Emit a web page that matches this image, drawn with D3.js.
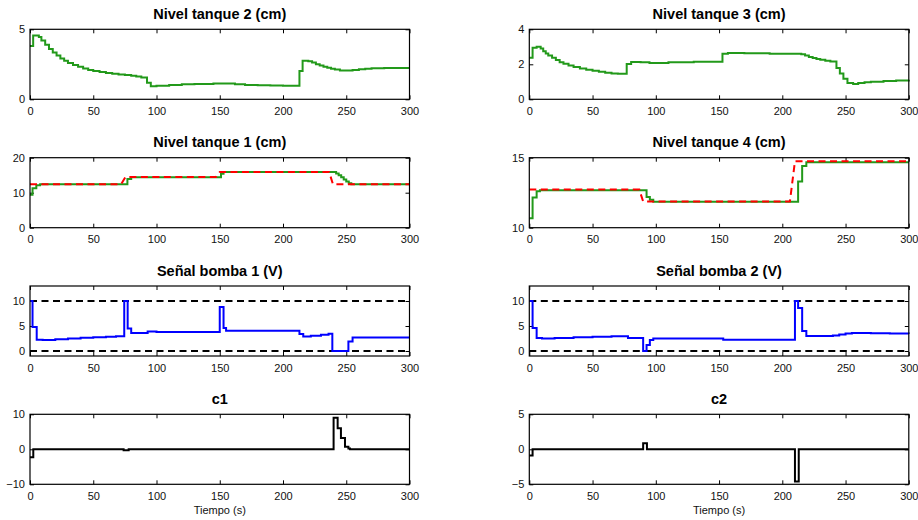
<!DOCTYPE html>
<html>
<head>
<meta charset="utf-8">
<script src="https://cdn.jsdelivr.net/npm/d3@7"></script>
<style>
  body { margin: 0; background: #fff; }
  text { font-family: "Liberation Sans", Arial, Helvetica, sans-serif; }
  .title { font-weight: bold; font-size: 14.5px; }
  .tick text { font-size: 11px; fill: #111; }
</style>
</head>
<body>
<svg id="chart"></svg>
<script>
// time axis (s)
const xTicks = [0, 50, 100, 150, 200, 250, 300];

// tank levels (cm), [t, value]
const tank2 = [[0,3.8],[2.5,4.55],[7,4.45],[9,4.2],[12,3.9],[15,3.6],[18,3.35],[21,3.12],[24,2.92],[27,2.75],[30,2.6],[34,2.45],[38,2.32],[42,2.2],[46,2.1],[50,2.02],[55,1.95],[60,1.88],[65,1.83],[70,1.78],[75,1.74],[80,1.69],[84,1.62],[88,1.55],[92.5,1.18],[95.5,0.93],[100,0.97],[110,1.03],[120,1.07],[130,1.1],[145,1.12],[155,1.12],[162,1.07],[170,1.03],[180,1.0],[190,0.98],[200,0.97],[213,2.02],[215.5,2.76],[220,2.72],[223,2.62],[226,2.5],[229,2.42],[232,2.33],[235,2.25],[238,2.18],[241,2.12],[245,2.06],[250,2.05],[255,2.1],[260,2.14],[265,2.18],[270,2.21],[280,2.23],[300,2.23]];
const tank3 = [[0,2.37],[2.6,2.94],[5.8,3.0],[9,2.9],[11,2.75],[13,2.62],[15,2.5],[18,2.37],[21,2.25],[24,2.12],[27,2.03],[31,1.93],[35,1.84],[40,1.76],[45,1.69],[50,1.63],[55,1.57],[60,1.52],[65,1.48],[70,1.46],[77,2.02],[80.5,2.13],[88,2.12],[95,2.08],[110,2.12],[130,2.15],[152.7,2.6],[157,2.65],[170,2.63],[190,2.6],[215,2.57],[218,2.5],[221,2.42],[224,2.36],[227,2.3],[230,2.26],[234,2.21],[238,2.16],[242.8,1.79],[245.5,1.48],[248.3,1.18],[251.5,0.93],[256,0.88],[260,0.93],[265,0.97],[270,1.0],[280,1.05],[290,1.08],[300,1.12]];
const tank1 = [[0,9.4],[2,11.3],[5,12.1],[8,12.4],[77,13.9],[80,14.45],[151,15.4],[153,15.9],[242,15.5],[244,15.0],[246,14.4],[248,13.8],[250,13.2],[252,12.7],[254,12.45],[300,12.45]];
const ref1 = [[0,12.4],[72,12.4],[75.5,14.5],[147,14.5],[150,15.9],[236.5,15.9],[239.5,12.4],[300,12.4]];
const tank4 = [[0,10.67],[2.6,12.15],[5.8,12.6],[8.4,12.68],[92.7,12.2],[95.3,12.0],[98,11.85],[212.5,13.3],[215.7,14.4],[219,14.68],[300,14.68]];
const ref4 = [[0,12.72],[87,12.72],[90,11.87],[206,11.87],[210,14.75],[300,14.75]];

// pump signals (V)
const pump1 = [[0,10],[2,4.8],[5.3,2.25],[10,2.2],[20,2.35],[30,2.5],[40,2.65],[50,2.75],[60,2.85],[68,2.95],[74.5,10],[77.2,4.5],[80,3.6],[93,3.9],[100,3.8],[150,8.8],[153,4.6],[155,4.05],[213,3.38],[216,2.9],[222,3.05],[230,3.25],[236,3.45],[239,0],[251.7,1.9],[255,2.7],[300,2.7]];
const pump2 = [[0,10],[2.6,4.6],[5.8,2.6],[10,2.5],[20,2.6],[35,2.75],[50,2.85],[65,2.95],[78,2.6],[90,0],[92.7,1.2],[95.3,2.2],[98,2.5],[153.3,2.23],[210,10],[212.5,8.6],[215.7,4.0],[219,3.0],[240,3.1],[245,3.3],[250,3.5],[255,3.6],[270,3.55],[285,3.5],[300,3.45]];
const pumpLimits = [0, 10];

// c1, c2
const c1 = [[0,-2.3],[2.6,0],[74,-0.3],[78,0],[240,9.0],[243.2,6.0],[245.8,3.2],[249,0.7],[251.7,0.2],[253,0],[300,0]];
const c2 = [[0,-0.9],[2.6,0],[90,0.85],[93,0],[210,-4.6],[213,0],[300,0]];

const panels = [
  { col: 0, row: 0, title: 'Nivel tanque 2 (cm)', y: [0, 5], yTicks: [0, 5], lines: [{ d: tank2, c: '#22991a', step: true }] },
  { col: 1, row: 0, title: 'Nivel tanque 3 (cm)', y: [0, 4], yTicks: [0, 2, 4], lines: [{ d: tank3, c: '#22991a', step: true }] },
  { col: 0, row: 1, title: 'Nivel tanque 1 (cm)', y: [0, 20], yTicks: [0, 10, 20], lines: [{ d: tank1, c: '#22991a', step: true }, { d: ref1, c: '#ff0000', dash: true }] },
  { col: 1, row: 1, title: 'Nivel tanque 4 (cm)', y: [10, 15], yTicks: [10, 15], lines: [{ d: tank4, c: '#22991a', step: true }, { d: ref4, c: '#ff0000', dash: true }] },
  { col: 0, row: 2, title: 'Señal bomba 1 (V)', y: [-1, 13], yTicks: [0, 5, 10], limits: true, lines: [{ d: pump1, c: '#0000ff', step: true }] },
  { col: 1, row: 2, title: 'Señal bomba 2 (V)', y: [-1, 13], yTicks: [0, 5, 10], limits: true, lines: [{ d: pump2, c: '#0000ff', step: true }] },
  { col: 0, row: 3, title: 'c1', y: [-10, 10], yTicks: [-10, 0, 10], xlabel: true, lines: [{ d: c1, c: '#000', step: true }] },
  { col: 1, row: 3, title: 'c2', y: [-5, 5], yTicks: [-5, 0, 5], xlabel: true, lines: [{ d: c2, c: '#000', step: true }] },
];

const width = 918, height = 520;
const lefts = [30, 529.3];
const tops = [29.3, 157.7, 286.0, 414.3];
const axW = 379.5, axH = 70;
const tick = 4;
const fmt = d3.format('~g');

const svg = d3.select('#chart').attr('width', width).attr('height', height);

panels.forEach(p => {
  const g = svg.append('g')
    .attr('transform', `translate(${lefts[p.col]}, ${tops[p.row]})`);

  const x = d3.scaleLinear().domain([0, 300]).range([0, axW]);
  const y = d3.scaleLinear().domain(p.y).range([axH, 0]);

  g.append('g')
    .attr('transform', `translate(0, ${axH})`)
    .call(d3.axisBottom(x).tickValues(xTicks).tickFormat(fmt).tickSizeInner(-tick).tickSizeOuter(0).tickPadding(8));
  g.append('g')
    .call(d3.axisTop(x).tickValues(xTicks).tickSizeInner(-tick).tickSizeOuter(0).tickFormat(''));
  g.append('g')
    .call(d3.axisLeft(y).tickValues(p.yTicks).tickFormat(fmt).tickSizeInner(-tick).tickSizeOuter(0).tickPadding(5));
  g.append('g')
    .attr('transform', `translate(${axW}, 0)`)
    .call(d3.axisRight(y).tickValues(p.yTicks).tickSizeInner(-tick).tickSizeOuter(0).tickFormat(''));
  g.selectAll('.domain').remove();
  g.selectAll('.tick line').attr('stroke', '#000').attr('stroke-width', 1);

  if (p.limits) {
    pumpLimits.forEach(v => {
      g.append('path')
        .attr('d', d3.line()([[x(0), y(v)], [x(300), y(v)]]))
        .attr('fill', 'none')
        .attr('stroke', '#000')
        .attr('stroke-width', 2)
        .attr('stroke-dasharray', '7,4.5');
    });
  }

  p.lines.forEach(l => {
    const line = d3.line()
      .x(d => x(d[0]))
      .y(d => y(d[1]))
      .curve(l.step ? d3.curveStepAfter : d3.curveLinear);
    g.append('path')
      .attr('d', line(l.d))
      .attr('fill', 'none')
      .attr('stroke', l.c)
      .attr('stroke-width', 2)
      .attr('stroke-dasharray', l.dash ? '7,4.5' : null);
  });

  g.append('rect')
    .attr('width', axW)
    .attr('height', axH)
    .attr('fill', 'none')
    .attr('stroke', '#000')
    .attr('stroke-width', 1.2);

  g.append('text')
    .attr('class', 'title')
    .attr('x', axW / 2)
    .attr('y', -10.5)
    .attr('text-anchor', 'middle')
    .text(p.title);

  if (p.xlabel) {
    g.append('text')
      .attr('x', axW / 2)
      .attr('y', axH + 29.5)
      .attr('text-anchor', 'middle')
      .style('font-size', '11px')
      .attr('fill', '#111')
      .text('Tiempo (s)');
  }
});
</script>
</body>
</html>
